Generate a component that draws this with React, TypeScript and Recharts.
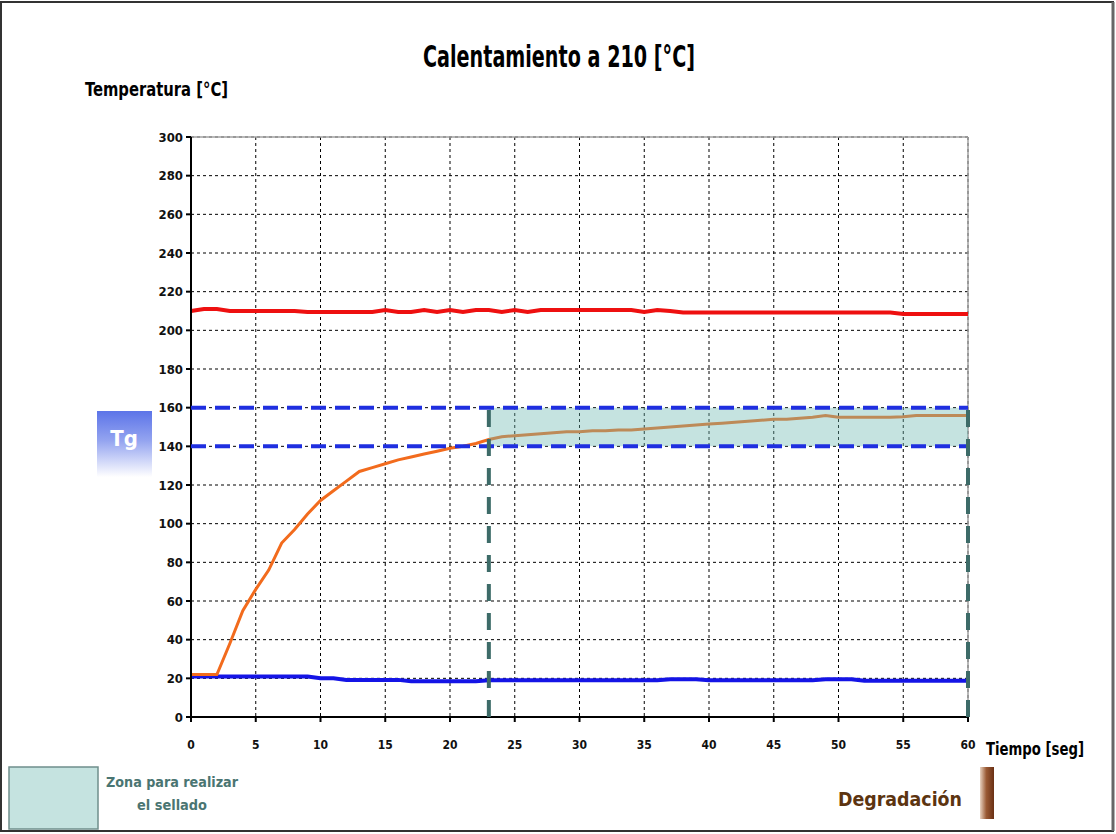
import { LineChart, Line, XAxis, YAxis, CartesianGrid, ReferenceLine, ReferenceArea } from 'recharts'

const narrow = "'Liberation Sans Narrow', 'Arial Narrow', 'DejaVu Sans Condensed', sans-serif"

// seconds
const tiempo = [
  0, 1, 2, 3, 4, 5, 6, 7, 8, 9, 10, 11, 12, 13, 14, 15, 16, 17, 18, 19, 20,
  21, 22, 23, 24, 25, 26, 27, 28, 29, 30, 31, 32, 33, 34, 35, 36, 37, 38, 39, 40,
  41, 42, 43, 44, 45, 46, 47, 48, 49, 50, 51, 52, 53, 54, 55, 56, 57, 58, 59, 60,
]

// plate temperature (red)
const tempPlaca = [
  210, 211, 211, 210, 210, 210, 210, 210, 210, 209.5, 209.5, 209.5, 209.5, 209.5, 209.5, 210.5, 209.5, 209.5, 210.5, 209.5, 210.5,
  209.5, 210.5, 210.5, 209.5, 210.5, 209.5, 210.5, 210.5, 210.5, 210.5, 210.5, 210.5, 210.5, 210.5, 209.5, 210.5, 210, 209.2, 209.2, 209.2,
  209.2, 209.2, 209.2, 209.2, 209.2, 209.2, 209.2, 209.2, 209.2, 209.2, 209.2, 209.2, 209.2, 209.2, 208.5, 208.5, 208.5, 208.5, 208.5, 208.5,
]

// film temperature (orange)
const tempFilm = [
  22, 22, 22, 38, 55, 66, 76, 90, 97, 105, 112, 117, 122, 127, 129, 131, 133, 134.5, 136, 137.5, 139,
  140, 141.5, 143.5, 145, 145.5, 146, 146.5, 147, 147.5, 147.5, 148, 148, 148.5, 148.5, 149, 149.5, 150, 150.5, 151, 151.5,
  152, 152.5, 153, 153.5, 154, 154, 154.5, 155, 156, 155, 155, 155, 155, 155, 155.3, 156, 156, 156, 156, 156,
]

// ambient temperature (blue)
const tempAmbiente = [
  21, 21, 21, 21, 21, 21, 21, 21, 21, 21, 20, 20, 19.2, 19.2, 19.2, 19.2, 19.2, 18.5, 18.5, 18.5, 18.5,
  18.5, 18.5, 19, 19, 19, 19, 19, 19, 19, 19, 19, 19, 19, 19, 19, 19, 19.5, 19.5, 19.5, 19,
  19, 19, 19, 19, 19, 19, 19, 19, 19.5, 19.5, 19.5, 18.7, 18.7, 18.7, 18.7, 18.7, 18.7, 18.7, 18.7, 18.7,
]

const xTicks = [0, 5, 10, 15, 20, 25, 30, 35, 40, 45, 50, 55, 60]
const yTicks = [0, 20, 40, 60, 80, 100, 120, 140, 160, 180, 200, 220, 240, 260, 280, 300]

const tgMin = 140
const tgMax = 160
const selladoInicio = 23
const selladoFin = 60

const rows = tiempo.map((t, i) => ({
  t,
  placa: tempPlaca[i],
  film: tempFilm[i],
  ambiente: tempAmbiente[i],
}))

const XTick = ({ x, y, payload }: any) => (
  <text x={x} y={y + 27} textAnchor="middle" fontFamily={narrow} fontWeight="bold" fontSize={12} fill="#111">
    {payload.value}
  </text>
)

const YTick = ({ x, y, payload }: any) => (
  <text x={x - 1} y={y + 4.5} textAnchor="end" fontFamily={narrow} fontWeight="bold" fontSize={13} fill="#111">
    {payload.value}
  </text>
)

export default function App() {
  return (
    <div style={{ position: 'absolute', left: 0, top: 0, width: 1116, height: 834, background: '#fff' }}>
      <LineChart
        width={1116}
        height={834}
        data={rows}
        margin={{ top: 137, right: 148, bottom: 87, left: 151 }}
      >
        <CartesianGrid stroke="#000" strokeDasharray="3 3" />
        <XAxis
          type="number"
          dataKey="t"
          domain={[0, 60]}
          ticks={xTicks}
          height={30}
          stroke="#000"
          strokeWidth={2}
          tickSize={5}
          tickMargin={0}
          tick={<XTick />}
        />
        <YAxis
          type="number"
          domain={[0, 300]}
          ticks={yTicks}
          width={40}
          stroke="#000"
          strokeWidth={2}
          tickSize={5}
          tickMargin={2}
          tick={<YTick />}
        />
        <ReferenceLine y={300} stroke="#a0a0a0" strokeWidth={1.5} />
        <ReferenceLine x={60} stroke="#a0a0a0" strokeWidth={1.5} />
        <Line type="linear" dataKey="placa" stroke="#ee1010" strokeWidth={4} dot={false} isAnimationActive={false} />
        <Line type="linear" dataKey="ambiente" stroke="#1414e6" strokeWidth={4} dot={false} isAnimationActive={false} />
        <Line type="linear" dataKey="film" stroke="#f26b1d" strokeWidth={3} dot={false} isAnimationActive={false} />
        <ReferenceArea
          x1={selladoInicio}
          x2={selladoFin}
          y1={tgMin}
          y2={tgMax}
          fill="#6eb9b1"
          fillOpacity={0.4}
          stroke="none"
          zIndex={500}
        />
        <ReferenceLine y={tgMax} stroke="#1f2fe0" strokeWidth={4} strokeDasharray="15 9" zIndex={600} />
        <ReferenceLine y={tgMin} stroke="#1f2fe0" strokeWidth={4} strokeDasharray="15 9" zIndex={600} />
        <ReferenceLine
          segment={[{ x: selladoInicio, y: 0 }, { x: selladoInicio, y: tgMax }]}
          stroke="#3d6b68"
          strokeWidth={4}
          strokeDasharray="17 12"
          zIndex={600}
        />
        <ReferenceLine
          segment={[{ x: selladoFin, y: 0 }, { x: selladoFin, y: tgMax }]}
          stroke="#3d6b68"
          strokeWidth={4}
          strokeDasharray="17 12"
          zIndex={600}
        />
      </LineChart>

      {/* titles, Tg badge and legends */}
      <svg width={1116} height={834} style={{ position: 'absolute', left: 0, top: 0, pointerEvents: 'none' }}>
        <defs>
          <linearGradient id="tgGrad" x1="0" y1="0" x2="0" y2="1">
            <stop offset="0%" stopColor="#5c74e8" />
            <stop offset="45%" stopColor="#94a4f0" />
            <stop offset="100%" stopColor="#ffffff" />
          </linearGradient>
          <linearGradient id="degGrad" x1="0" y1="0" x2="1" y2="0">
            <stop offset="0%" stopColor="#e8d2c0" />
            <stop offset="45%" stopColor="#9a5a34" />
            <stop offset="100%" stopColor="#6a3014" />
          </linearGradient>
        </defs>
        <rect x={1} y={2} width={1112} height={829} fill="none" stroke="#333" strokeWidth={2} />
        <line x1={1113} y1={2} x2={1113} y2={831} stroke="#666" strokeWidth={3} />

        <text x={559} y={67} textAnchor="middle" fontFamily={narrow} fontWeight="bold" fontSize={30} fill="#000" textLength={272} lengthAdjust="spacingAndGlyphs">
          Calentamiento a 210 [°C]
        </text>
        <text x={85} y={96} fontFamily={narrow} fontWeight="bold" fontSize={20} fill="#000" textLength={143} lengthAdjust="spacingAndGlyphs">
          Temperatura [°C]
        </text>
        <text x={986} y={755} fontFamily={narrow} fontWeight="bold" fontSize={18} fill="#000" textLength={98} lengthAdjust="spacingAndGlyphs">
          Tiempo [seg]
        </text>

        <rect x={97} y={411} width={55} height={66} fill="url(#tgGrad)" />
        <text x={124} y={446} textAnchor="middle" fontFamily={narrow} fontWeight="bold" fontSize={22} fill="#fff">
          Tg
        </text>

        <rect x={9} y={767} width={89} height={62} fill="#c5e3e0" stroke="#6f8f8c" strokeWidth={1.5} />
        <text x={172} y={787} textAnchor="middle" fontFamily={narrow} fontWeight="bold" fontSize={14} fill="#4a7572" textLength={132} lengthAdjust="spacingAndGlyphs">
          Zona para realizar
        </text>
        <text x={172} y={810} textAnchor="middle" fontFamily={narrow} fontWeight="bold" fontSize={14} fill="#4a7572" textLength={70} lengthAdjust="spacingAndGlyphs">
          el sellado
        </text>

        <text x={838} y={806} fontFamily={narrow} fontWeight="bold" fontSize={20} fill="#5c3410" textLength={124} lengthAdjust="spacingAndGlyphs">
          Degradación
        </text>
        <rect x={980} y={767} width={14} height={52} fill="url(#degGrad)" />
      </svg>
    </div>
  )
}
